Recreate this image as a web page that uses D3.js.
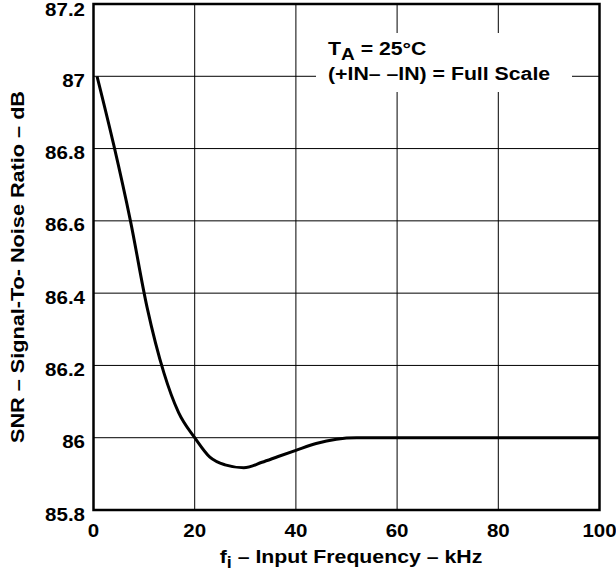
<!DOCTYPE html>
<html><head><meta charset="utf-8">
<script src="https://cdn.jsdelivr.net/npm/d3@7"></script>
<style>body{margin:0;background:#fff}svg{display:block}text{font-family:"Liberation Sans",Arial,sans-serif;font-weight:bold;fill:#000}</style>
</head><body>
<script>
const freqKHz = [0.7, 4, 7.3, 10.6, 13.9, 16.8, 20, 23, 26, 29.7, 33.3, 36.5, 40, 44, 48, 52, 60, 80, 100];
const snrDB   = [87.0, 86.81, 86.60, 86.36, 86.18, 86.07, 86.0, 85.946, 85.925, 85.917, 85.932, 85.948, 85.965, 85.984, 85.996, 86.0, 86.0, 86.0, 86.0];
const xTicks = [0, 20, 40, 60, 80, 100];
const yTicks = [85.8, 86, 86.2, 86.4, 86.6, 86.8, 87, 87.2];
const yTickLabels = ["85.8", "86", "86.2", "86.4", "86.6", "86.8", "87", "87.2"];

const W = 616, H = 583;
const m = {left: 93.5, top: 4, right: 16.5, bottom: 73};
const svg = d3.select("body").append("svg").attr("width", W).attr("height", H);
const x = d3.scaleLinear().domain([0, 100]).range([m.left, W - m.right]);
const y = d3.scaleLinear().domain([85.8, 87.2]).range([H - m.bottom, m.top]);

// wide text helper (reference font is horizontally wider)
function wideText(parent, tx, ty, size, sx, anchor, rot) {
  return parent.append("text")
    .attr("transform", `translate(${tx},${ty})` + (rot ? ` rotate(${rot})` : "") + ` scale(${sx},1)`)
    .attr("font-size", size).attr("text-anchor", anchor || "start");
}

// grid
svg.append("g").selectAll("line").data(xTicks.slice(1, -1)).join("line")
  .attr("x1", d => x(d)).attr("x2", d => x(d)).attr("y1", y(87.2)).attr("y2", y(85.8))
  .attr("stroke", "#000").attr("stroke-width", 1);
svg.append("g").selectAll("line").data(yTicks.slice(1, -1)).join("line")
  .attr("x1", x(0)).attr("x2", x(100)).attr("y1", d => y(d)).attr("y2", d => y(d))
  .attr("stroke", "#000").attr("stroke-width", 1);

// annotation box (white background)
svg.append("rect").attr("x", 316).attr("y", 33).attr("width", 256).attr("height", 59).attr("fill", "#fff");
const t1 = wideText(svg, 328, 55, 19, 1.12, "start");
t1.append("tspan").text("T");
t1.append("tspan").attr("dy", 5).attr("font-size", 17).text("A");
t1.append("tspan").attr("dy", -5).text(" = 25°C");
wideText(svg, 328, 80, 19, 1.12, "start").text("(+IN– –IN) = Full Scale");

// frame
svg.append("rect").attr("x", x(0)).attr("y", y(87.2)).attr("width", x(100) - x(0)).attr("height", y(85.8) - y(87.2))
  .attr("fill", "none").attr("stroke", "#000").attr("stroke-width", 2.5);

// curve
svg.append("path").datum(freqKHz.map((f, i) => [f, snrDB[i]]))
  .attr("d", d3.line().x(d => x(d[0])).y(d => y(d[1])).curve(d3.curveMonotoneX))
  .attr("fill", "none").attr("stroke", "#000").attr("stroke-width", 3).attr("stroke-linejoin", "round");

// tick labels
xTicks.forEach(d => wideText(svg, x(d), 537, 19, 1.08, "middle").text(d));
yTicks.forEach((d, i) => wideText(svg, 85, Math.max(y(d) + 10.5, 16), 19, 1.08, "end").text(yTickLabels[i]));

// axis titles
const xl = wideText(svg, 351, 563, 19, 1.12, "middle");
xl.append("tspan").text("f");
xl.append("tspan").attr("dy", 5).attr("font-size", 16).text("i");
xl.append("tspan").attr("dy", -5).text(" – Input Frequency – kHz");
wideText(svg, 24, 267, 19, 1.14, "middle", -90).text("SNR – Signal-To- Noise Ratio – dB");
</script>
</body></html>
